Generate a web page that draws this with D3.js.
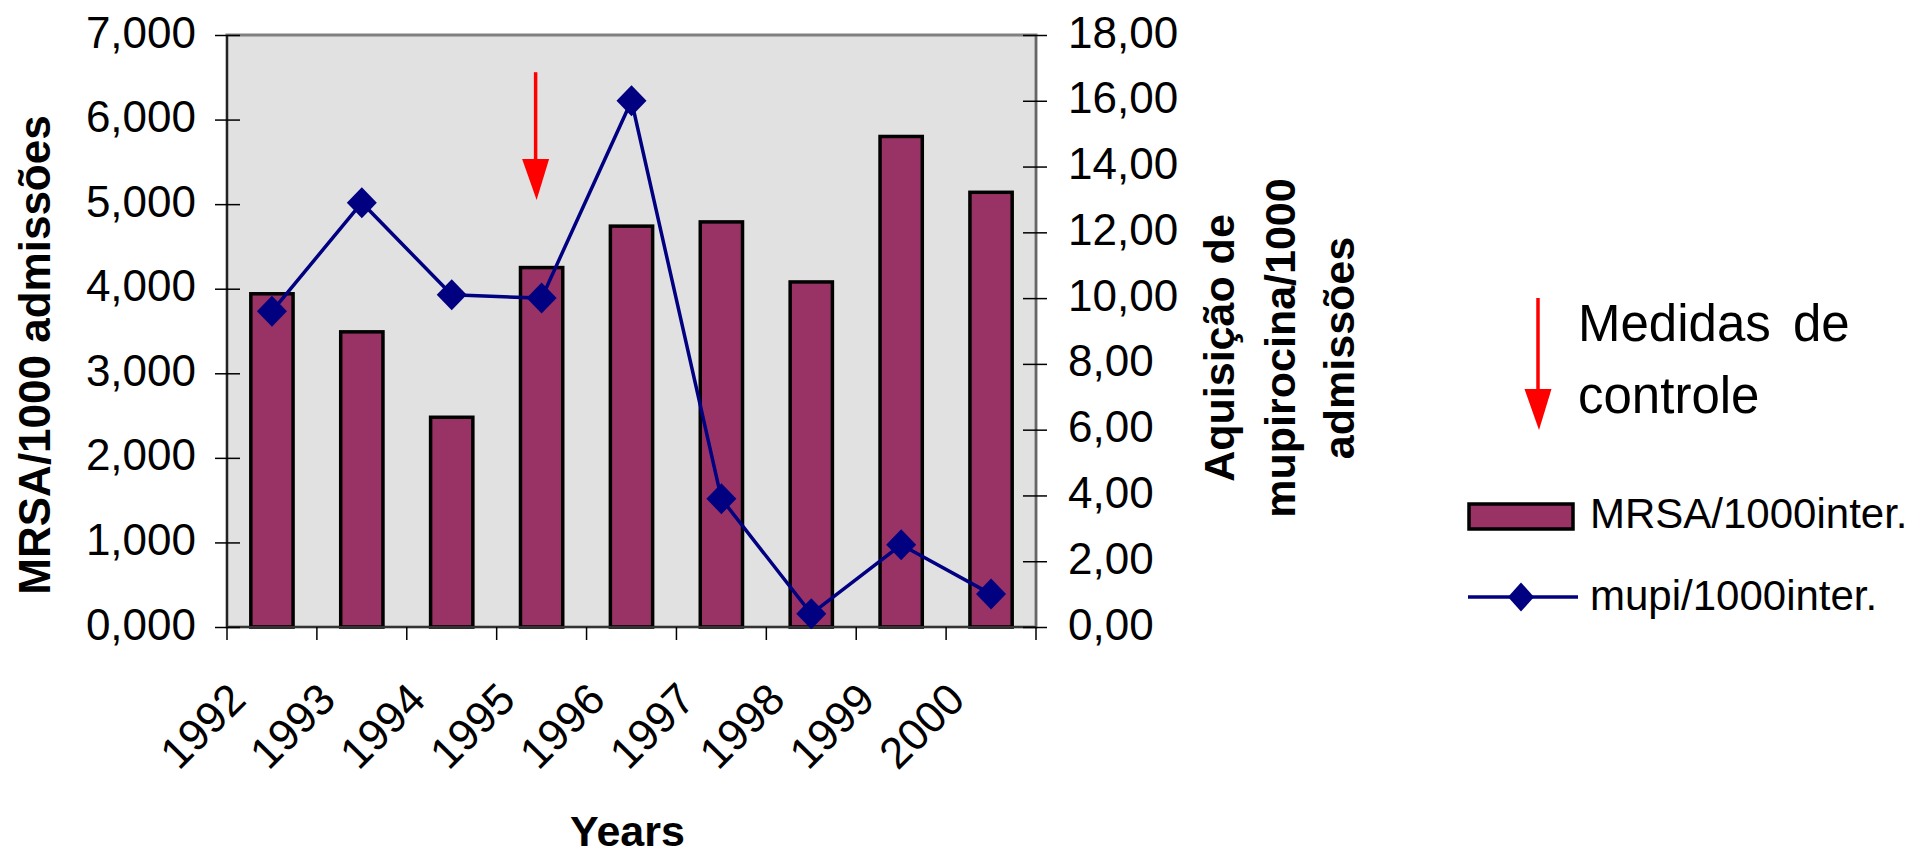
<!DOCTYPE html>
<html>
<head>
<meta charset="utf-8">
<script src="https://cdn.jsdelivr.net/npm/d3@7"></script>
<style>
  html, body { margin: 0; padding: 0; background: #ffffff; }
  svg { display: block; }
  text { font-family: "Liberation Sans", Arial, sans-serif; fill: #000; }
</style>
</head>
<body>
<svg id="chart" width="1913" height="855"></svg>
<script>
// ---- data ----
const years = ["1992", "1993", "1994", "1995", "1996", "1997", "1998", "1999", "2000"];
const mrsa = [3940, 3490, 2480, 4250, 4740, 4790, 4080, 5800, 5140];
const mupi = [9.6, 12.9, 10.1, 10.0, 16.0, 3.9, 0.4, 2.5, 1.0];
const leftTicks = [0, 1000, 2000, 3000, 4000, 5000, 6000, 7000];
const rightTicks = [0, 2, 4, 6, 8, 10, 12, 14, 16, 18];
const leftTitle = "MRSA/1000 admissões";
const rightTitleLines = ["Aquisição de", "mupirocina/1000", "admissões"];
const xTitle = "Years";
const legendNote = ["Medidas de", "controle"];
const seriesNames = ["MRSA/1000inter.", "mupi/1000inter."];
const arrowYear = "1995";
const arrowFromTo = [6560, 5050]; // in left-axis units

// ---- layout ----
const svg = d3.select("#chart");
const L = 227, R = 1036, T = 35, B = 627;
const barColor = "#993366", lineColor = "#000080", red = "#ff0000";

const x = d3.scaleBand().domain(years).range([L, R]).paddingInner(0.53).paddingOuter(0.265);
const step = (R - L) / years.length;
const yL = d3.scaleLinear().domain([0, 7000]).range([B, T]);
const yR = d3.scaleLinear().domain([0, 18]).range([B, T]);
const fmtL = v => d3.format(",.3f")(v / 1000).replace(".", ",");
const fmtR = v => d3.format(".2f")(v).replace(".", ",");

svg.append("rect").attr("width", 1913).attr("height", 855).attr("fill", "#fff");

// plot area
svg.append("rect").attr("x", L).attr("y", T).attr("width", R - L).attr("height", B - T)
  .attr("fill", "#e1e1e1").attr("stroke", "#808080").attr("stroke-width", 3);

// bars
svg.append("g").selectAll("rect").data(years).join("rect")
  .attr("x", d => x(d)).attr("width", x.bandwidth())
  .attr("y", (d, i) => yL(mrsa[i])).attr("height", (d, i) => B - yL(mrsa[i]))
  .attr("fill", barColor).attr("stroke", "#000").attr("stroke-width", 3.5);

// axes lines
svg.append("line").attr("x1", L).attr("x2", L).attr("y1", T).attr("y2", B).attr("stroke", "#222").attr("stroke-width", 2);
svg.append("line").attr("x1", R).attr("x2", R).attr("y1", T).attr("y2", B).attr("stroke", "#666").attr("stroke-width", 2);
svg.append("line").attr("x1", L).attr("x2", R).attr("y1", B).attr("y2", B).attr("stroke", "#333").attr("stroke-width", 2);

// left axis
const gL = svg.append("g").attr("transform", `translate(${L},0)`)
  .call(d3.axisLeft(yL).tickValues(leftTicks).tickFormat(fmtL).tickSize(12));
gL.select(".domain").remove();
gL.selectAll(".tick line").attr("x1", 13).attr("x2", -12).attr("stroke", "#000").attr("stroke-width", 1.5);
gL.selectAll(".tick text").attr("x", -31).attr("dy", null).attr("y", 12)
  .attr("font-size", 44).attr("font-family", "Liberation Sans, Arial, sans-serif").attr("fill", "#000");

// right axis
const gR = svg.append("g").attr("transform", `translate(${R},0)`)
  .call(d3.axisRight(yR).tickValues(rightTicks).tickFormat(fmtR).tickSize(12));
gR.select(".domain").remove();
gR.selectAll(".tick line").attr("x1", -13).attr("x2", 11).attr("stroke", "#000").attr("stroke-width", 1.5);
gR.selectAll(".tick text").attr("x", 32).attr("dy", null).attr("y", 12)
  .attr("font-size", 44).attr("font-family", "Liberation Sans, Arial, sans-serif").attr("fill", "#000");

// bottom axis: ticks at category boundaries
const gB = svg.append("g").attr("transform", `translate(0,${B})`)
  .call(d3.axisBottom(x).tickSize(0).tickFormat(""));
gB.select(".domain").remove();
gB.selectAll(".tick").remove();
const boundaries = d3.range(years.length + 1).map(i => L + i * step);
gB.selectAll("line.bt").data(boundaries).join("line").attr("class", "bt")
  .attr("x1", d => d).attr("x2", d => d).attr("y1", 0).attr("y2", 13)
  .attr("stroke", "#000").attr("stroke-width", 1.5);
gB.selectAll("text.yl").data(years).join("text").attr("class", "yl")
  .attr("text-anchor", "end").attr("font-size", 44)
  .attr("transform", d => `translate(${x(d) + x.bandwidth() / 2 - 24},${75}) rotate(-45)`)
  .text(d => d);

// line series
const cx = d => x(d) + x.bandwidth() / 2;
const line = d3.line().x((d, i) => cx(years[i])).y(d => yR(d));
svg.append("path").datum(mupi).attr("d", line).attr("fill", "none")
  .attr("stroke", lineColor).attr("stroke-width", 3.5);
const diamond = (px, py, rx, ry) => `M${px},${py - ry}L${px + rx},${py}L${px},${py + ry}L${px - rx},${py}Z`;
svg.append("g").selectAll("path").data(mupi).join("path")
  .attr("d", (d, i) => diamond(cx(years[i]), yR(d), 15, 15.5))
  .attr("fill", lineColor);

// annotation arrow in plot
function arrow(g, ax, y1, y2) {
  const headLen = 41, headW = 13.5;
  g.append("line").attr("x1", ax).attr("x2", ax).attr("y1", y1).attr("y2", y2 - headLen + 2)
    .attr("stroke", red).attr("stroke-width", 3.5);
  g.append("path").attr("d", `M${ax - headW},${y2 - headLen}L${ax + headW},${y2 - headLen}L${ax + 1},${y2}Z`).attr("fill", red);
}
arrow(svg, cx(arrowYear) - 6, yL(arrowFromTo[0]), yL(arrowFromTo[1]));

// axis titles
svg.append("text").attr("transform", `translate(50,355) rotate(-90)`).attr("text-anchor", "middle")
  .attr("font-size", 44).attr("font-weight", "bold").text(leftTitle);
const rtX = [1234, 1295, 1354];
rightTitleLines.forEach((t, i) => {
  svg.append("text").attr("transform", `translate(${rtX[i]},348) rotate(-90)`).attr("text-anchor", "middle")
    .attr("font-size", 43).attr("font-weight", "bold").text(t);
});
svg.append("text").attr("x", (L + R) / 2 - 4).attr("y", 846).attr("text-anchor", "middle")
  .attr("font-size", 43).attr("font-weight", "bold").text(xTitle);

// legend: control measures
const lg = svg.append("g");
arrow(lg, 1538, 298, 430);
lg.append("text").attr("x", 1578).attr("y", 341).attr("font-size", 51).attr("word-spacing", 8).text(legendNote[0]);
lg.append("text").attr("x", 1578).attr("y", 413).attr("font-size", 51).text(legendNote[1]);

// legend: series
lg.append("rect").attr("x", 1469).attr("y", 504).attr("width", 104).attr("height", 25)
  .attr("fill", barColor).attr("stroke", "#000").attr("stroke-width", 3.5);
lg.append("text").attr("x", 1590).attr("y", 528).attr("font-size", 42).text(seriesNames[0]);
lg.append("line").attr("x1", 1468).attr("x2", 1578).attr("y1", 597).attr("y2", 597)
  .attr("stroke", lineColor).attr("stroke-width", 3.5);
lg.append("path").attr("d", diamond(1521, 597, 13, 14.5)).attr("fill", lineColor);
lg.append("text").attr("x", 1590).attr("y", 610).attr("font-size", 42).text(seriesNames[1]);
</script>
</body>
</html>
